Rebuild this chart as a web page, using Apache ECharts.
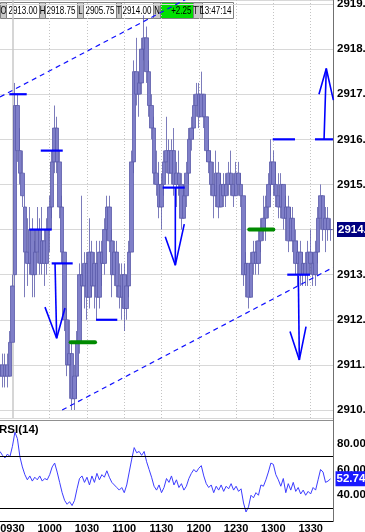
<!DOCTYPE html>
<html><head><meta charset="utf-8">
<script src="https://cdn.jsdelivr.net/npm/echarts@6/dist/echarts.min.js"></script>
<style>html,body{margin:0;padding:0;background:#fff;overflow:hidden}#c{width:365px;height:532px}</style>
</head><body><div id="c"></div>
<script>
// ---- data ----
const tickLabels = ['0930','1000','1030','1100','1130','1200','1230','1300','1330'];
const barOpen = [2910.75,2911.0,2910.75,2911.0,2910.75,2911.5,2913.0,2916.75,2915.75,2915.25,
2914.5,2913.5,2913.25,2914.0,2913.0,2913.5,2914.0,2913.25,2913.75,2913.25,
2914.0,2914.5,2915.5,2916.25,2915.5,2914.5,2913.5,2912.0,2911.0,2911.25,
2910.25,2910.75,2911.5,2913.0,2912.75,2913.25,2912.5,2913.5,2912.75,2913.25,
2912.5,2913.5,2913.25,2914.0,2914.5,2913.75,2913.0,2913.5,2912.75,2912.5,
2913.0,2912.25,2912.75,2913.5,2915.5,2917.5,2917.0,2917.25,2918.0,2918.25,
2917.5,2916.75,2916.25,2915.25,2915.0,2914.5,2915.0,2915.5,2915.75,2915.25,
2915.75,2915.0,2915.25,2915.0,2914.25,2914.75,2915.25,2916.0,2916.25,2916.75,
2917.0,2916.5,2917.0,2916.5,2915.75,2915.5,2915.0,2914.75,2915.25,2914.5,
2915.0,2914.75,2915.0,2915.25,2915.0,2914.75,2915.25,2915.0,2914.75,2913.0,
2913.25,2912.5,2913.25,2913.5,2913.25,2913.75,2914.0,2914.25,2914.5,2915.0,
2915.5,2915.0,2914.75,2914.5,2915.0,2914.25,2914.5,2913.75,2914.25,2913.75,
2913.25,2913.5,2913.0,2913.25,2913.0,2913.5,2913.25,2913.0,2913.5,2914.25,
2914.75,2914.0,2914.25,2914.0];
const barClose = [2911.0,2910.75,2911.0,2910.75,2911.5,2912.75,2916.75,2915.75,2915.25,2914.75,
2913.5,2913.25,2914.0,2913.0,2913.5,2914.0,2913.25,2913.75,2913.25,2914.0,
2914.5,2915.5,2916.25,2915.5,2914.5,2913.5,2912.0,2911.0,2911.25,2910.25,
2910.75,2911.5,2913.0,2912.75,2913.25,2912.5,2913.5,2912.75,2913.25,2912.5,
2913.5,2913.25,2914.0,2914.5,2913.75,2913.0,2913.5,2912.75,2912.5,2913.0,
2912.25,2912.75,2913.5,2915.5,2917.5,2917.0,2917.25,2918.0,2918.25,2917.5,
2916.75,2916.25,2915.25,2915.0,2914.5,2915.0,2915.5,2915.75,2915.25,2915.75,
2915.0,2915.25,2915.0,2914.25,2914.75,2915.25,2916.0,2916.25,2916.75,2917.0,
2916.5,2917.0,2916.5,2915.75,2915.5,2915.0,2914.75,2915.25,2914.5,2915.0,
2914.75,2915.0,2915.25,2915.0,2914.75,2915.25,2915.0,2914.75,2913.0,2913.25,
2912.5,2913.25,2913.5,2913.25,2913.75,2914.0,2914.25,2914.5,2915.0,2915.5,
2915.0,2914.75,2914.5,2915.0,2914.25,2914.5,2913.75,2914.25,2913.75,2913.25,
2913.5,2913.0,2913.25,2913.0,2913.5,2913.25,2913.0,2913.5,2914.25,2914.75,
2914.0,2914.25,2914.0,2914.0];
const barLow = [2910.5,2910.5,2910.5,2910.5,2910.75,2911.5,2912.75,2915.5,2915.0,2914.5,
2912.5,2912.75,2913.0,2912.5,2912.5,2913.25,2913.0,2913.0,2912.75,2913.0,
2913.5,2914.25,2915.25,2915.25,2914.25,2913.25,2911.75,2910.75,2910.25,2910.0,
2910.0,2910.25,2911.25,2912.0,2912.25,2912.0,2912.25,2912.5,2912.25,2912.0,
2912.25,2912.75,2913.0,2913.75,2913.5,2912.5,2912.75,2912.5,2912.25,2912.0,
2911.75,2912.0,2912.5,2913.5,2915.25,2916.75,2916.5,2917.0,2917.75,2917.25,
2916.5,2916.0,2915.0,2914.75,2914.25,2914.0,2914.75,2915.25,2915.0,2915.0,
2914.75,2914.5,2914.75,2914.0,2914.25,2914.5,2915.0,2915.75,2916.0,2916.5,
2916.25,2916.5,2916.25,2915.5,2915.25,2914.75,2914.25,2914.5,2914.25,2914.5,
2914.5,2914.5,2914.75,2914.75,2914.5,2914.75,2914.75,2914.5,2912.75,2912.5,
2912.25,2912.5,2913.0,2913.0,2913.0,2913.5,2913.75,2913.75,2914.25,2914.75,
2914.75,2914.5,2914.25,2914.25,2914.0,2913.75,2913.5,2913.75,2913.5,2913.0,
2912.75,2912.75,2912.75,2912.75,2912.75,2913.0,2912.75,2912.75,2913.25,2914.0,
2913.75,2913.5,2913.75,2913.75];
const barHigh = [2911.25,2911.25,2911.25,2911.25,2911.75,2913.0,2917.25,2917.0,2916.25,2915.75,
2914.75,2914.25,2914.5,2914.25,2913.75,2914.5,2914.25,2914.5,2914.0,2914.25,
2914.75,2915.75,2916.75,2916.5,2915.75,2914.75,2913.5,2912.25,2912.0,2911.5,
2911.0,2911.75,2913.25,2914.75,2913.5,2913.5,2914.25,2913.75,2913.5,2913.75,
2913.75,2913.75,2914.25,2914.75,2914.75,2914.0,2913.75,2913.75,2913.25,2913.25,
2913.25,2913.0,2913.75,2915.75,2917.75,2918.25,2917.5,2918.25,2918.75,2918.5,
2917.75,2917.0,2916.5,2915.75,2915.5,2915.25,2915.75,2916.5,2916.0,2916.0,
2916.25,2915.5,2915.75,2915.25,2915.0,2915.5,2916.25,2916.5,2917.0,2917.25,
2917.25,2917.5,2917.0,2916.5,2916.0,2915.75,2915.5,2915.75,2915.5,2915.25,
2915.25,2915.25,2915.5,2915.75,2915.25,2915.5,2915.5,2915.25,2914.75,2913.5,
2913.25,2913.5,2913.75,2913.75,2914.0,2914.25,2914.75,2914.75,2915.25,2916.0,
2915.75,2915.5,2915.25,2915.25,2915.0,2914.75,2914.75,2914.5,2914.5,2914.0,
2913.75,2913.75,2913.5,2913.5,2913.75,2914.0,2913.5,2913.75,2914.5,2915.0,
2914.75,2914.5,2914.5,2914.25];
const rsiValues = [74,71,69,72,70,78,89,84,70,62,
56,52,55,51,54,52,55,51,53,52,
56,62,65,58,50,42,36,33,35,32,
36,45,53,55,50,54,48,55,50,57,
52,56,54,59,54,50,48,46,44,46,
42,48,58,68,77,73,74,71,74,66,
60,54,47,44,48,42,46,53,50,55,
48,52,46,49,44,47,53,57,60,58,
61,63,55,49,46,48,42,47,44,48,
43,47,45,49,44,47,43,45,34,27,
31,40,38,42,40,48,47,52,58,65,
64,56,52,47,53,42,49,44,50,43,
46,41,44,40,43,41,46,44,52,60,
58,50,51,52.74];
const lastPrice = 2914.0;
const lastRsi = 52.74;
const headerFields = [['O','2913.00'],['H','2918.75'],['L','2905.75'],['T','2914.00'],['N','+2.25'],['TT','13:47:14']];
// annotations: x in minutes after 09:20, y in price
const trendLines = [[[0,2916.94],[150,2919.11]], [[50,2910.0],[268,2913.16]]];
const blueLevels = [[7.5,21.5,2917.0],[32.8,50.5,2915.75],[23.6,41.6,2914.0],[41.6,58.5,2913.25],[77.3,94.4,2912.0],[130.9,148.7,2914.93],[219.5,237.4,2916.0],[253.5,268,2916.0],[231.2,249.5,2913.0]];
const greenLevels = [[56.9,76.5,2911.5],[200.6,220.0,2914.0]];
const arrowShafts = [[[44.3,2913.25],[45.6,2911.59]], [[141.1,2914.93],[141.1,2913.21]], [[260.8,2916.0],[262.6,2917.57]], [[240.1,2912.98],[240.9,2911.11]]];
const arrowHeads = [[[36.2,2912.28],[45.6,2911.59],[52.3,2912.26]], [[133.0,2913.84],[141.1,2913.21],[148.3,2914.12]], [[256.7,2917.0],[262.6,2917.57],[268.3,2916.87]], [[233.4,2911.74],[240.9,2911.11],[246.3,2911.85]]];

// ---- build ----
const times = [];
for (let m = 9*60+20; m <= 13*60+48; m += 2) {
  times.push(String(Math.floor(m/60)).padStart(2,'0') + ':' + String(m%60).padStart(2,'0'));
}
const candles = barOpen.map((o,i)=>[o, barClose[i], barLow[i], barHigh[i]]);
const FONT = "'Liberation Sans',Arial,sans-serif";
const isHalfHour = v => v.endsWith(':00') || v.endsWith(':30');

const series = [];
series.push({
  type:'candlestick', xAxisIndex:0, yAxisIndex:0, data:candles, barWidth:4, z:3,
  itemStyle:{color:'#7f7fc8', color0:'#7f7fc8', borderColor:'#5a5aaa', borderColor0:'#5a5aaa', borderWidth:0.8}
});
const annot = (data, style, z) => ({type:'line', xAxisIndex:1, yAxisIndex:0, data, symbol:'none', silent:true, z:z||5, lineStyle:style, animation:false});
trendLines.forEach(t => series.push(annot(t, {color:'#1010ff', width:1.2, type:[5,4]})));
blueLevels.forEach(s => series.push(annot([[s[0],s[2]],[s[1],s[2]]], {color:'#0000ff', width:2.2})));
greenLevels.forEach(s => series.push(annot([[s[0],s[2]],[s[1],s[2]]], {color:'#008a00', width:4, cap:'round'})));
arrowShafts.forEach(s => series.push(annot(s, {color:'#0000ff', width:1.6})));
arrowHeads.forEach(s => series.push(annot(s, {color:'#0000ff', width:1.6})));
series.push({
  type:'line', xAxisIndex:3, yAxisIndex:1, data:rsiValues, symbol:'none', z:4,
  lineStyle:{color:'#3c3cff', width:1}, animation:false,
  markLine:{symbol:'none', silent:true, animation:false, label:{show:false},
    data:[
      {yAxis:70, lineStyle:{color:'#000', width:1, type:'solid'}},
      {yAxis:30, lineStyle:{color:'#000', width:1, type:'solid'}}
    ]},
  markPoint:{silent:true, animation:false,
    data:[{coord:[rsiValues.length-1, lastRsi], symbol:'rect', symbolSize:[2,2], itemStyle:{color:'rgba(0,0,0,0)'},
      label:{show:true, position:'right', distance:4, formatter:lastRsi.toFixed(2), opacity:1,
        backgroundColor:'#1a1aff', color:'#fff', fontWeight:'bold', fontSize:11.5, fontFamily:FONT, padding:[2,6,1,1]}}]}
});

// header graphics
const headerEls = [];
const lblW = [6,6,6,5,7,9], valW = [33,32,33,32,33,31];
let hx = 0;
headerFields.forEach((f,i)=>{
  headerEls.push({type:'rect', shape:{x:hx+0.5,y:2.5,width:lblW[i],height:16}, style:{fill:'#c8c8c8', stroke:'#808080', lineWidth:1}});
  headerEls.push({type:'text', x:hx+lblW[i]/2+0.5, y:11, scaleX:0.68, style:{text:f[0], fill:'#000', font:'11.5px '+FONT, align:'center', verticalAlign:'middle'}});
  hx += lblW[i];
  headerEls.push({type:'rect', shape:{x:hx+0.5,y:2.5,width:valW[i],height:16}, style:{fill: f[0]==='N' ? '#00e000' : '#fff', stroke:'#808080', lineWidth:1}});
  headerEls.push({type:'text', x:hx+valW[i]-1.5, y:11, scaleX:0.7, style:{text:f[1], fill:'#000', font:'11.5px '+FONT, align:'right', verticalAlign:'middle'}});
  hx += valW[i];
});

const option = {
  animation:false,
  backgroundColor:'#fff',
  textStyle:{fontFamily:FONT},
  title:{text:'RSI(14)', left:-1, top:424, textStyle:{fontSize:11.5, fontWeight:'bold', color:'#000', fontFamily:FONT}, padding:0},
  grid:[
    {left:0, top:0, width:333, height:418, outerBoundsMode:'none', containLabel:false},
    {left:0, top:418, width:333, height:103, outerBoundsMode:'none', containLabel:false}
  ],
  xAxis:[
    {type:'category', gridIndex:0, data:times, boundaryGap:false, axisLine:{show:false}, axisTick:{show:false}, axisLabel:{show:false},
     splitLine:{show:true, interval:(i,v)=>isHalfHour(v) && v!=='09:30', lineStyle:{color:'#c4c4c4', type:[1,2], width:1}}},
    {type:'value', gridIndex:0, min:0, max:268, show:false},
    {type:'category', gridIndex:0, data:times, boundaryGap:false, axisLine:{show:false}, axisTick:{show:false}, axisLabel:{show:false},
     splitLine:{show:true, interval:(i,v)=>v==='09:30', lineStyle:{color:'#c8c8c8', width:1.5}}},
    {type:'category', gridIndex:1, data:times, boundaryGap:false,
     axisLine:{show:true, lineStyle:{color:'#000', width:1}}, axisTick:{show:false},
     axisLabel:{interval:(i,v)=>tickLabels.includes(v.replace(':','')), formatter:v=>v.replace(':',''), margin:2,
       color:'#000', fontWeight:'bold', fontSize:11, fontFamily:FONT},
     splitLine:{show:false}}
  ],
  yAxis:[
    {type:'value', gridIndex:0, position:'right', min:2909.8227, max:2919.0887, splitNumber:9,
     axisLine:{show:true, onZero:false, lineStyle:{color:'#707070', width:1}}, axisTick:{show:false},
     axisLabel:{margin:4, color:'#000', fontWeight:'bold', fontSize:11.5, fontFamily:FONT,
       formatter:v=>{ if (Math.abs(v-Math.round(v))>1e-6) return ''; return Math.abs(v-lastPrice)<1e-6 ? '{hl|'+v.toFixed(1)+'}' : v.toFixed(1); },
       rich:{hl:{backgroundColor:'#000080', color:'#fff', fontWeight:'bold', fontSize:11.5, fontFamily:FONT, padding:[2,6,1,1]}}},
     splitLine:{show:true, lineStyle:{color:'#d8d8d8', width:1}}},
    {type:'value', gridIndex:1, position:'right', min:20, max:100, interval:20,
     axisLine:{show:true, onZero:false, lineStyle:{color:'#707070', width:1}}, axisTick:{show:false},
     axisLabel:{margin:4, color:'#000', fontWeight:'bold', fontSize:11.5, fontFamily:FONT,
       formatter:v=> (v===20||v===100) ? '' : v.toFixed(2)},
     splitLine:{show:false}}
  ],
  graphic:[
    {type:'line', shape:{x1:0,y1:420.5,x2:333,y2:420.5}, style:{stroke:'#909090', lineWidth:1}, z:50},
    {type:'group', z:100, children:headerEls}
  ],
  series
};
const chart = echarts.init(document.getElementById('c'), null, {renderer:'canvas'});
chart.setOption(option);
</script>
</body></html>
